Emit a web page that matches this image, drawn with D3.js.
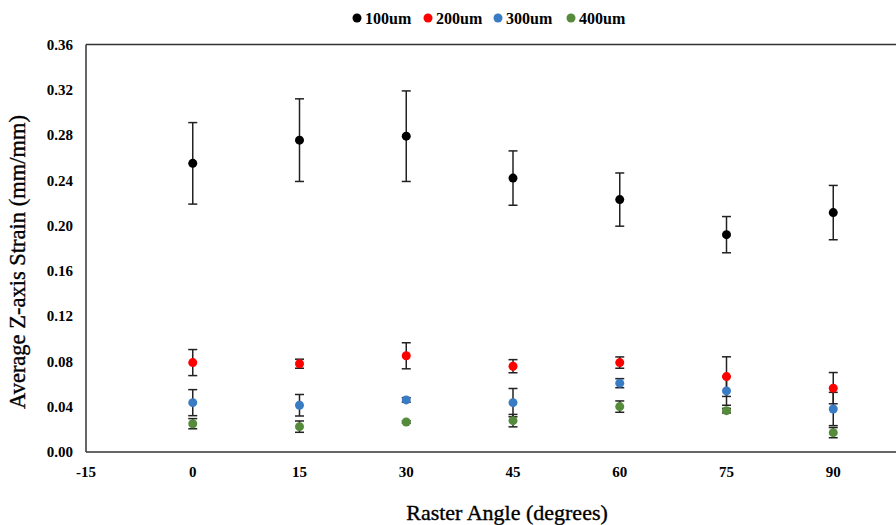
<!DOCTYPE html>
<html>
<head>
<meta charset="utf-8">
<script src="https://cdn.jsdelivr.net/npm/d3@7"></script>
<style>
  body { margin: 0; background: #fff; }
  svg { display: block; font-family: "Liberation Serif", "Times New Roman", serif; }
</style>
</head>
<body>
<svg id="chart"></svg>
<script>
const angles = [0, 15, 30, 45, 60, 75, 90];
const xTicks = [-15, 0, 15, 30, 45, 60, 75, 90];
const yTicks = [0, 0.04, 0.08, 0.12, 0.16, 0.20, 0.24, 0.28, 0.32, 0.36];

const seriesNames = ['100um', '200um', '300um', '400um'];
const seriesColors = ['#000000', '#ff0000', '#3a7cc4', '#558b3a'];

const mean100 = [0.255, 0.2755, 0.279, 0.242, 0.223, 0.192, 0.2115];
const err100 = [0.036, 0.0365, 0.040, 0.024, 0.0235, 0.016, 0.024];
const mean200 = [0.079, 0.078, 0.085, 0.0758, 0.079, 0.0666, 0.0564];
const err200 = [0.0115, 0.004, 0.0115, 0.0058, 0.005, 0.0175, 0.0138];
const mean300 = [0.0436, 0.0413, 0.046, 0.0436, 0.0608, 0.054, 0.038];
const err300 = [0.0115, 0.0095, 0.002, 0.0125, 0.004, 0.0127, 0.0147];
const mean400 = [0.025, 0.0224, 0.0265, 0.0277, 0.0401, 0.0365, 0.0171];
const err400 = [0.0045, 0.005, 0.001, 0.0055, 0.005, 0.002, 0.0045];

const means = [mean100, mean200, mean300, mean400];
const errs = [err100, err200, err300, err400];

const width = 896, height = 525;
const svg = d3.select('#chart').attr('width', width).attr('height', height);

const x = d3.scaleLinear().domain([-15, 105]).range([86, 940]);
const y = d3.scaleLinear().domain([0, 0.36]).range([452, 44.5]);

// plot frame (left, top, bottom)
svg.append('line').attr('x1', x(-15)).attr('x2', width).attr('y1', y(0)).attr('y2', y(0))
  .attr('stroke', '#333').attr('stroke-width', 1.5);
svg.append('line').attr('x1', x(-15)).attr('x2', width).attr('y1', y(0.36)).attr('y2', y(0.36))
  .attr('stroke', '#333').attr('stroke-width', 1.5);
svg.append('line').attr('x1', x(-15)).attr('x2', x(-15)).attr('y1', y(0)).attr('y2', y(0.36))
  .attr('stroke', '#333').attr('stroke-width', 1.5);

// tick labels
svg.append('g').selectAll('text').data(yTicks).join('text')
  .attr('x', 73).attr('y', d => y(d)).attr('dy', '0.35em')
  .attr('text-anchor', 'end').attr('font-size', 15).attr('font-weight', 'bold')
  .text(d => d3.format('.2f')(d));

svg.append('g').selectAll('text').data(xTicks).join('text')
  .attr('x', d => x(d)).attr('y', 477)
  .attr('text-anchor', 'middle').attr('font-size', 15).attr('font-weight', 'bold')
  .text(d => d);

// axis titles
svg.append('text').attr('x', 507).attr('y', 520).attr('text-anchor', 'middle')
  .attr('font-size', 22).attr('stroke', '#000').attr('stroke-width', 0.35)
  .text('Raster Angle  (degrees)');
svg.append('text').attr('transform', 'translate(25,262) rotate(-90)')
  .attr('text-anchor', 'middle').attr('font-size', 22.5)
  .attr('stroke', '#000').attr('stroke-width', 0.35)
  .text('Average Z-axis Strain (mm/mm)');

// error bars then points
means.forEach((m, si) => {
  const g = svg.append('g');
  const rows = angles.map((a, i) => ({ a, v: m[i], e: errs[si][i] }));
  g.selectAll('.bar').data(rows).join('line')
    .attr('x1', d => x(d.a)).attr('x2', d => x(d.a))
    .attr('y1', d => y(d.v - d.e)).attr('y2', d => y(d.v + d.e))
    .attr('stroke', '#222').attr('stroke-width', 1.5);
  [-1, 1].forEach(s => {
    g.selectAll('.cap' + s).data(rows).join('line')
      .attr('x1', d => x(d.a) - 4.5).attr('x2', d => x(d.a) + 4.5)
      .attr('y1', d => y(d.v + s * d.e)).attr('y2', d => y(d.v + s * d.e))
      .attr('stroke', '#222').attr('stroke-width', 1.5);
  });
});
means.forEach((m, si) => {
  svg.append('g').selectAll('circle').data(angles).join('circle')
    .attr('cx', d => x(d)).attr('cy', (d, i) => y(m[i])).attr('r', 4.5)
    .attr('fill', seriesColors[si]);
});

// legend
const legendX = [357, 428, 498, 571];
const legend = svg.append('g').selectAll('g').data(seriesNames).join('g')
  .attr('transform', (d, i) => `translate(${legendX[i]},18)`);
legend.append('circle').attr('r', 4.5).attr('fill', (d, i) => seriesColors[i]);
legend.append('text').attr('x', 8).attr('dy', '0.35em')
  .attr('font-size', 16).attr('font-weight', 'bold').text(d => d);
</script>
</body>
</html>
